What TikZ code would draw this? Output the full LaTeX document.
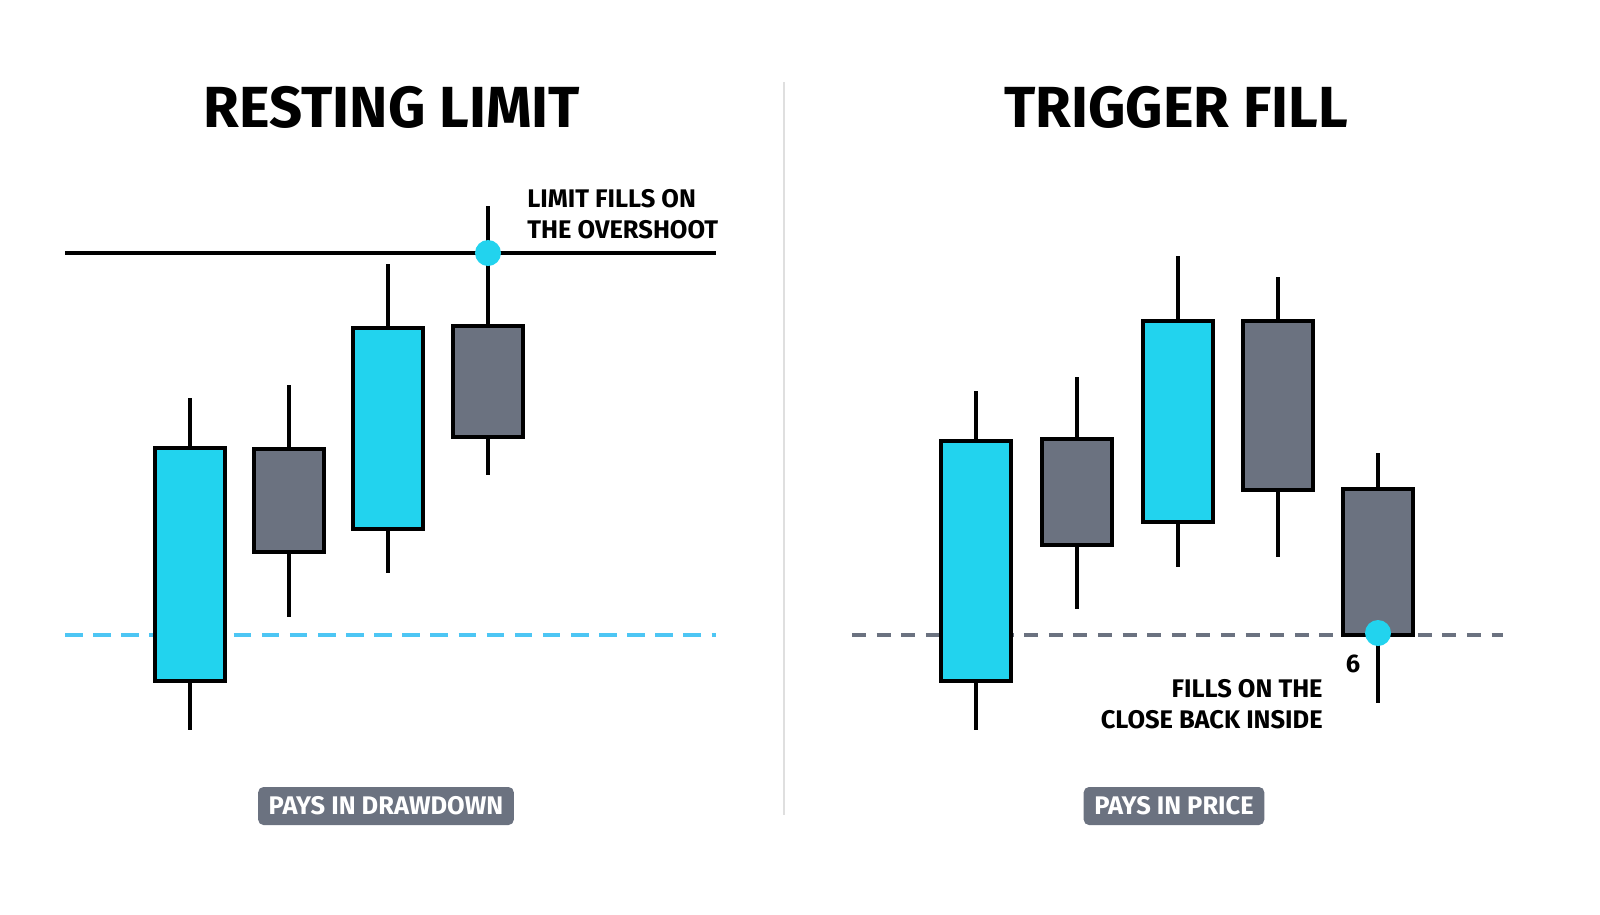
\documentclass[tikz,border=0pt]{standalone}
\usepackage{fontspec}
\setmainfont{Fira Sans}
\usetikzlibrary{positioning}
\definecolor{upcyan}{HTML}{22D3EE}
\definecolor{downgray}{HTML}{6B7280}
\tikzset{
  body/.style={draw=black, line width=2.4pt, minimum width=70*0.02cm, inner sep=0pt},
  wick/.style={line width=2.4pt},
  title/.style={font=\fontsize{33}{40}\selectfont\bfseries},
  note/.style={font=\fontsize{14.5}{18}\selectfont\bfseries, inner sep=0pt},
  badge/.style={fill=downgray, rounded corners=3pt, text=white, font=\fontsize{14.5}{18}\selectfont\bfseries, minimum height=38*0.02cm, inner xsep=6pt},
  filldot/.style={circle, fill=upcyan, minimum size=26*0.02cm, inner sep=0pt}
}
\begin{document}
\begin{tikzpicture}[x=0.02cm, y=-0.02cm]
  \useasboundingbox (0,0) rectangle (1600,914);

  % titles and divider
  \node[title] (T1) at (392,107) {RESTING LIMIT};
  \node[title] (T2) at (1176,107) {TRIGGER FILL};
  \draw[gray!25, line width=1.5pt] (784,82) -- (784,815);

  % levels
  \draw[cyan!70, line width=2.2pt, dash pattern=on 10pt off 6pt] (65,635) -- (716,635);
  \draw[line width=2.2pt] (65,253) -- (716,253);
  \draw[downgray, line width=2pt, dash pattern=on 8pt off 6pt] (852,635) -- (1503,635);

  % candles: name/x/body top/body bottom/wick top/wick bottom/colour
  \foreach \n/\x/\bt/\bb/\wt/\wb/\c in {
      L1/190/448/681/398/730/upcyan, L2/289/449/552/385/617/downgray,
      L3/388/328/529/264/573/upcyan, L4/488/326/437/206/475/downgray,
      R1/976/441/681/391/730/upcyan, R2/1077/439/545/377/609/downgray,
      R3/1178/321/522/256/567/upcyan, R4/1278/321/490/277/557/downgray,
      R5/1378/489/635/453/703/downgray} {
    \coordinate (\n top) at (\x,\wt);
    \coordinate (\n bot) at (\x,\wb);
    \draw[wick] (\n top) -- (\n bot);
    \node[body, fill=\c, minimum height=(\bb-\bt)*0.02cm] (\n) at (\x,{(\bt+\bb)/2}) {};
  }

  % fills
  \node[filldot] (D1) at (488,253) {};
  \node[filldot] (D2) at (1378,633) {};
  \node[note] (six) at (1353,664) {6};

  \node[note, align=left, anchor=west] (N1) at (527,214) {LIMIT FILLS ON\\THE OVERSHOOT};
  \node[note, align=right, anchor=east] (N2) at (1323,704) {FILLS ON THE\\CLOSE BACK INSIDE};

  % badges
  \node[badge, minimum width=230*0.02cm] (B1) at (386,806) {PAYS IN DRAWDOWN};
  \node[badge, minimum width=168*0.02cm] (B2) at (1174,806) {PAYS IN PRICE};
\end{tikzpicture}
\end{document}
